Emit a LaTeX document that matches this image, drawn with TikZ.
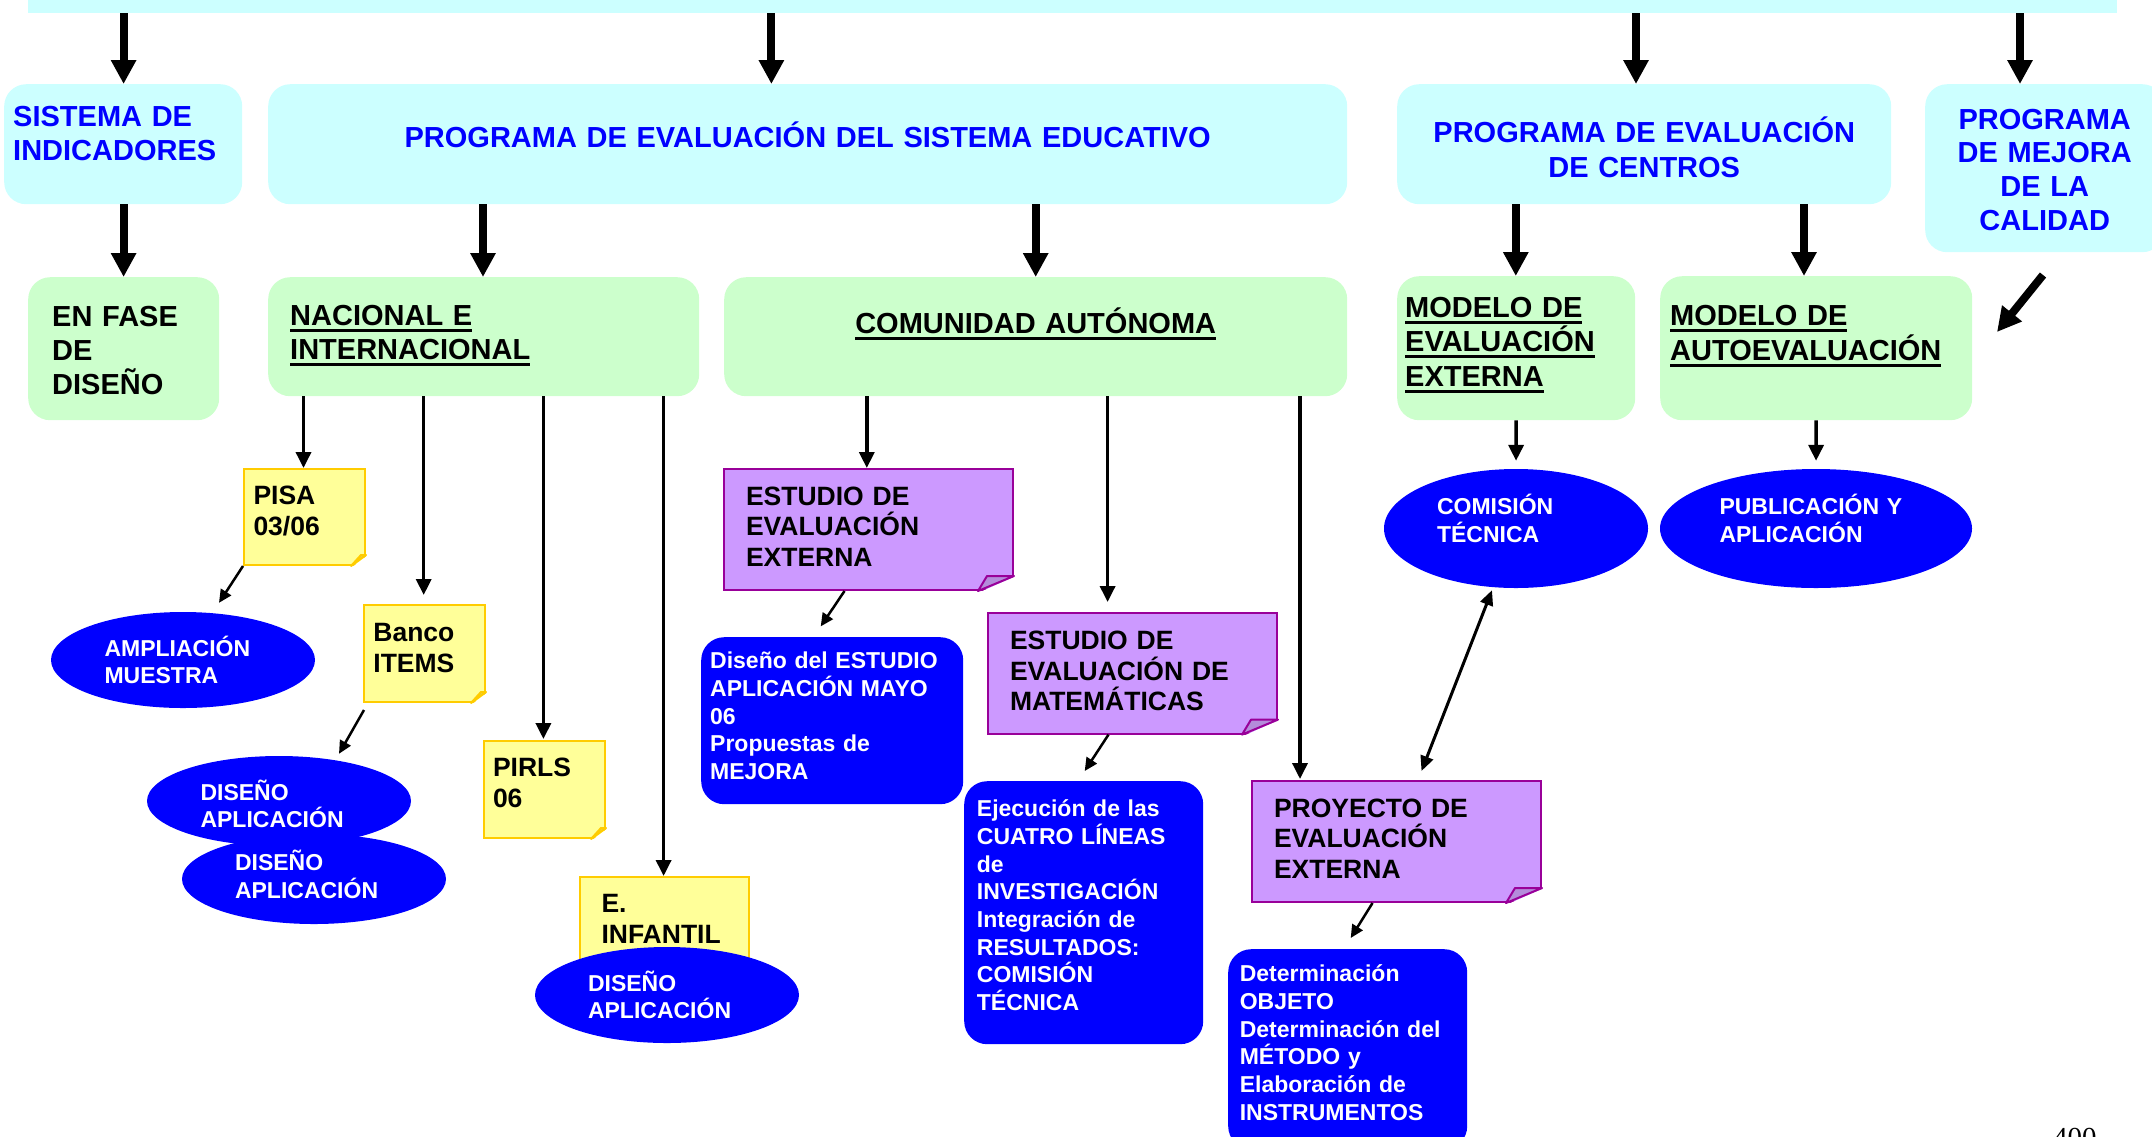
\documentclass[tikz,border=0pt]{standalone}
\usepackage{fontspec}
\setmainfont{Liberation Sans}
\newfontfamily\pagefont{Liberation Serif}
\usetikzlibrary{arrows.meta,shapes.geometric,calc}
\definecolor{cyanbox}{HTML}{CCFFFF}
\definecolor{greenbox}{HTML}{CCFFCC}
\definecolor{pureblue}{HTML}{0000FF}
\definecolor{notey}{HTML}{FFFF99}
\definecolor{noteyline}{HTML}{FFCC00}
\definecolor{foldy}{HTML}{D6CC70}
\definecolor{notep}{HTML}{CC99FF}
\definecolor{notepline}{HTML}{990099}
\definecolor{foldp}{HTML}{B48CDB}
\newcommand{\ulin}[1]{\leavevmode\setbox0\hbox{#1}\rlap{\rule[-6.7pt]{\wd0}{3.3pt}}\box0}
\begin{document}
\begin{tikzpicture}[x=1pt,y=-1pt,
    roundbox/.style={anchor=north west,inner sep=0pt,rounded corners=22pt},
    headbox/.style={roundbox,fill=cyanbox,text=pureblue,font=\bfseries\fontsize{29}{34.5}\selectfont},
    subbox/.style={roundbox,fill=greenbox,font=\bfseries\fontsize{29}{34}\selectfont},
    notebox/.style={anchor=north west,inner sep=0pt,line width=2pt,font=\bfseries\fontsize{26.5}{31}\selectfont},
    yellownote/.style={notebox,fill=notey,draw=noteyline},
    purplenote/.style={notebox,fill=notep,draw=notepline,font=\bfseries\fontsize{26.5}{30.5}\selectfont},
    bluebox/.style={roundbox,rounded corners=23pt,fill=pureblue,text=white,font=\bfseries\fontsize{23}{27.7}\selectfont},
    oval/.style={ellipse,fill=pureblue,text=white,inner sep=0pt,align=left,font=\bfseries\fontsize{23}{27.5}\selectfont},
    indent/.style={align=left,execute at begin node={\leftskip=#1pt}},
    bigarrow/.style={line width=8pt,-{Triangle[length=24pt,width=24pt]}},
    midarrow/.style={line width=3.5pt,-{Triangle[length=16pt,width=15pt]}},
    smallarrow/.style={line width=2.5pt,-{Triangle[length=13pt,width=12pt]}},
    botharrow/.style={line width=3pt,{Triangle[length=15pt,width=13pt]}-{Triangle[length=15pt,width=13pt]}}]
  \useasboundingbox (0,0) rectangle (2152,1136);

  \node (banner) [fill=cyanbox,anchor=north west,inner sep=0pt,minimum width=2089pt,minimum height=12.7pt] at (28,0) {};

  \node (sistema) [headbox,indent=9,text width=238pt,text height=42pt,text depth=78pt] at (4,84) {SISTEMA DE\\INDICADORES};
  \node (progse) [headbox,align=center,text width=1079pt,text height=63pt,text depth=57pt] at (268,84) {PROGRAMA DE EVALUACIÓN DEL SISTEMA EDUCATIVO};
  \node (centros) [headbox,align=center,text width=494pt,text height=58pt,text depth=62pt,font=\bfseries\fontsize{29}{35}\selectfont] at (1397,84) {PROGRAMA DE EVALUACIÓN\\DE CENTROS};
  \node (mejora) [headbox,align=center,text width=239pt,text height=45pt,text depth=123pt,font=\bfseries\fontsize{29}{33.7}\selectfont] at (1925,84) {PROGRAMA\\DE MEJORA\\DE LA\\CALIDAD};

  \node (enfase) [subbox,indent=24,text width=191pt,text height=49pt,text depth=94pt] at (28,277) {EN FASE\\DE\\DISEÑO};
  \node (nacional) [subbox,indent=22,text width=431pt,text height=48pt,text depth=71pt] at (268,277) {\ulin{NACIONAL E}\\\ulin{INTERNACIONAL}};
  \node (comunidad) [subbox,align=center,text width=623pt,text height=56pt,text depth=63pt] at (724,277) {\ulin{COMUNIDAD AUTÓNOMA}};
  \node (modext) [subbox,indent=8,text width=238pt,text height=41pt,text depth=103pt,font=\bfseries\fontsize{29}{34.5}\selectfont] at (1397,276) {\ulin{MODELO DE}\\\ulin{EVALUACIÓN}\\\ulin{EXTERNA}};
  \node (modauto) [subbox,indent=10,text width=312pt,text height=49pt,text depth=95pt,font=\bfseries\fontsize{29}{35}\selectfont] at (1660,276) {\ulin{MODELO DE}\\\ulin{AUTOEVALUACIÓN}};

  \node (pisa) [yellownote,indent=9.5,text width=121pt,text height=35pt,text depth=61pt] at (243,468) {PISA\\03/06};
  \node (banco) [yellownote,indent=9.4,text width=121pt,text height=36pt,text depth=61pt] at (363,604) {Banco\\ITEMS};
  \node (pirls) [yellownote,indent=9,text width=121pt,text height=35.6pt,text depth=61.4pt] at (483,740) {PIRLS\\06};
  \node (infantil) [yellownote,indent=21.5,text width=169pt,text height=35.5pt,text depth=60.5pt] at (579,876) {E.\\INFANTIL};
  \node (estext) [purplenote,indent=22,text width=289pt,text height=36pt,text depth=85pt] at (723,468) {ESTUDIO DE\\EVALUACIÓN\\EXTERNA};
  \node (estmat) [purplenote,indent=22,text width=289pt,text height=36.6pt,text depth=84pt] at (987,612) {ESTUDIO DE\\EVALUACIÓN DE\\MATEMÁTICAS};
  \node (proyecto) [purplenote,indent=22,text width=289pt,text height=36.4pt,text depth=84.6pt] at (1251,780) {PROYECTO DE\\EVALUACIÓN\\EXTERNA};

  \foreach \n/\fx/\fy/\cx/\ff/\fd in {pisa/15/11/10/foldy/noteyline,banco/15/11/10/foldy/noteyline,pirls/15/11/10/foldy/noteyline,
      estext/36/15/9/foldp/notepline,estmat/36/15/9/foldp/notepline,proyecto/36/15/9/foldp/notepline}{
    \fill[white] ($(\n.south east)+(-\fx,2)$) -- ($(\n.south east)+(2,2)$) -- ($(\n.south east)+(2,-\fy)$) -- cycle;
    \filldraw[fill=\ff,draw=\fd,line width=2pt,line join=round] ($(\n.south east)+(-\fx,0)$) -- ($(\n.south east)+(-\fx+\cx,-\fy)$) -- ($(\n.south east)+(0,-\fy)$) -- cycle;
  }

  \node (disest) [bluebox,indent=9,text width=262pt,text height=31.6pt,text depth=135.4pt] at (701,637) {Diseño del ESTUDIO\\APLICACIÓN MAYO\\06\\Propuestas de\\MEJORA};
  \node (ejec) [bluebox,indent=12.7,text width=239pt,text height=35.4pt,text depth=227.6pt] at (964,781) {Ejecución de las\\CUATRO LÍNEAS\\de\\INVESTIGACIÓN\\Integración de\\RESULTADOS:\\COMISIÓN\\TÉCNICA};
  \node (determ) [bluebox,indent=11.6,text width=239pt,text height=32.5pt,text depth=167.5pt] at (1228,949) {Determinación\\OBJETO\\Determinación del\\MÉTODO y\\Elaboración de\\INSTRUMENTOS};

  \node (ampl) [oval,minimum width=264pt,minimum height=96pt,text width=157pt,text height=20pt,text depth=28pt] at (183,660) {AMPLIACIÓN\\MUESTRA};
  \node (dis1) [oval,minimum width=264pt,minimum height=90pt,text width=157pt,text height=20pt,text depth=22pt] at (279,801) {DISEÑO\\APLICACIÓN};
  \node (dis2) [oval,minimum width=264pt,minimum height=90pt,text width=158pt,text height=18pt,text depth=35pt] at (314,879) {DISEÑO\\APLICACIÓN};
  \node (dis3) [oval,minimum width=264pt,minimum height=96pt,text width=158pt,text height=20pt,text depth=28pt] at (667,995) {DISEÑO\\APLICACIÓN};
  \node (comision) [oval,minimum width=264pt,minimum height=119pt,text width=158pt,text height=10pt,text depth=37.6pt] at (1516,528.5) {COMISIÓN\\TÉCNICA};
  \node (publica) [oval,minimum width=312pt,minimum height=119pt,text width=193pt,text height=10pt,text depth=37.6pt] at (1816,528.5) {PUBLICACIÓN Y\\APLICACIÓN};

  \node (pagenum) [anchor=base west,inner sep=0pt,font=\pagefont\fontsize{29}{29}\selectfont] at (2053,1147) {400};

  \coordinate (mj1) at (2043,275);
  \coordinate (mj2) at (1997,332);

  \foreach \n/\x in {sistema/123.6,progse/771.4,centros/1636,mejora/2020}
    \draw[bigarrow] (banner.south -| \x,0) -- (\n.north -| \x,0);
  \foreach \a/\b/\x in {sistema/enfase/123.6,progse/nacional/483,progse/comunidad/1035.7,centros/modext/1515.8,centros/modauto/1804}
    \draw[bigarrow] (\a.south -| \x,0) -- (\b.north -| \x,0);
  \draw[bigarrow] (mj1) -- (mj2);

  \foreach \b/\x/\s in {pisa/303.5/0pt,banco/423.7/9pt,pirls/543.4/1pt,infantil/663.6/0pt}
    \draw[midarrow,shorten >=\s] (nacional.south -| \x,0) -- (\b.north -| \x,0);
  \foreach \b/\x/\s in {estext/866.8/0pt,estmat/1107.6/10pt,proyecto/1300/1pt}
    \draw[midarrow,shorten >=\s] (comunidad.south -| \x,0) -- (\b.north -| \x,0);
  \draw[midarrow,shorten >=8pt] (modext.south) -- (comision.north);
  \draw[midarrow,shorten >=8pt] (modauto.south) -- (publica.north);

  \draw[smallarrow] (pisa.south west) -- ($(ampl.north)+(36,-9)$);
  \draw[smallarrow] ($(banco.south west)+(1,7)$) -- ($(dis1.north)+(60,-2)$);
  \draw[smallarrow] ($(estext.south)+(-24,0)$) -- ($(disest.north)+(-11.5,-10.6)$);
  \draw[smallarrow] ($(estmat.south)+(-24,0)$) -- ($(ejec.north)+(1,-10)$);
  \draw[smallarrow] ($(proyecto.south)+(-24,0)$) -- ($(determ.north)+(3,-11)$);
  \draw[botharrow] ($(proyecto.north)+(25,-9)$) -- ($(comision.south)+(-24,2)$);
\end{tikzpicture}
\end{document}
